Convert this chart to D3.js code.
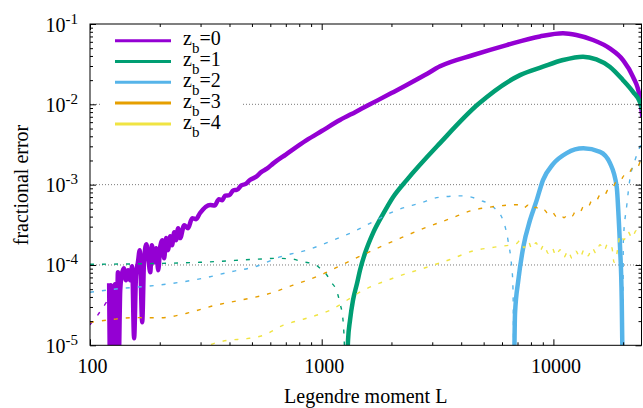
<!DOCTYPE html>
<html>
<head>
<meta charset="utf-8">
<script src="https://cdn.jsdelivr.net/npm/d3@7/dist/d3.min.js"></script>
<style>
  body { margin: 0; background: #fff; }
  svg { display: block; }
  text { font-family: "Liberation Serif", "Times New Roman", serif; fill: #000; }
</style>
</head>
<body>
<svg id="chart" width="643" height="408"></svg>
<script>
// Fractional error vs Legendre moment L for each source bin z_b.
// Each series is a list of [L, signed fractional error]; positive parts are drawn
// as thick solid lines, negative parts as thin dashed lines of |error|.

const seriesLabels = ["0", "1", "2", "3", "4"];
const seriesColors = ["#9400d3", "#009e73", "#56b4e9", "#e69f00", "#f0e442"];

const zb0 = [
  [100, -1.8e-5], [102, -1.93e-5], [106, -2.2e-5], [110, -2.58e-5], [115, -3.1e-5], [120, -3.74e-5],
  [121, 5.92e-5], [122, 6e-6], [123, 5.59e-5], [125, 6e-6], [126, 4.84e-5], [127, 3.64e-5],
  [128, 5.75e-5], [130, 6e-6], [132, 8.12e-5], [133, 6e-6], [135, 4.84e-5], [137, 7.45e-5],
  [140, 9.11e-5], [143, 6.45e-5], [146, 8.6e-5], [149, 6.45e-5], [152, 9.65e-5], [155, 1.22e-5],
  [158, 7.45e-5], [161, 1.08e-4], [164, 1.53e-4], [168, 1.93e-5], [171, 1.08e-4], [175, 1.81e-4],
  [178, 1.32e-4], [182, 8.12e-5], [185, 1.76e-4], [189, 1.08e-4], [193, 1.62e-4], [197, 8.6e-5],
  [201, 1.71e-4], [205, 2.03e-4], [209, 1.21e-4], [213, 2.16e-4], [217, 1.53e-4], [222, 2.28e-4],
  [226, 1.76e-4], [231, 2.56e-4], [235, 2.03e-4], [240, 2.87e-4], [245, 2.16e-4], [255, 3.13e-4],
  [265, 2.87e-4], [276, 3.82e-4], [287, 3.72e-4], [298, 4.41e-4],
  [330, 5.6e-4], [345, 5.5e-4], [360, 6.6e-4], [372, 6.4e-4], [383, 7.3e-4], [400, 7.4e-4],
  [415, 8.5e-4], [430, 8.6e-4], [450, 9.8e-4], [470, 1.02e-3], [490, 1.14e-3], [520, 1.25e-3],
  [550, 1.44e-3], [580, 1.58e-3], [618, 1.84e-3], [700, 2.37e-3], [861, 3.58e-3], [1000, 4.65e-3],
  [1199, 6.37e-3], [1400, 8.05e-3], [1616, 0.0100], [2000, 0.0138], [2327, 0.0174], [2800, 0.0233],
  [3240, 0.0297], [4512, 0.0411], [6285, 0.0547], [8750, 0.0700], [11000, 0.0766], [12560, 0.0729],
  [14830, 0.0632], [17500, 0.0498], [19970, 0.0356], [22060, 0.0220], [23580, 0.0124], [24200, 0.0070]
];

const zb1 = [
  [100, -1.02e-4], [182, -1.04e-4], [298, -1.08e-4], [526, -1.18e-4], [641, -1.21e-4], [752, -1.18e-4],
  [822, -1.1e-4], [935, -1.02e-4], [983, -9.11e-5], [1054, -7.45e-5], [1108, -5.92e-5], [1141, -5.28e-5],
  [1176, -4.2e-5], [1199, -3.34e-5], [1236, -2.05e-5], [1248, -1.33e-5], [1262, -5e-6],
  [1286, 5e-6], [1299, 1.15e-5], [1325, 2.05e-5], [1365, 3.64e-5], [1421, 5.92e-5], [1463, 8.6e-5],
  [1538, 1.4e-4], [1665, 2.49e-4], [1839, 4.29e-4], [2031, 6.98e-4], [2327, 1.14e-3], [3240, 3.29e-3],
  [4727, 0.0100], [7175, 0.0231], [9016, 0.0294], [11000, 0.0356], [13420, 0.0392], [15320, 0.0363],
  [17500, 0.0294], [19970, 0.0200], [22060, 0.0143], [23580, 0.0108], [24200, 0.0085]
];

const zb2 = [
  [100, -4.57e-5], [135, -5.09e-5], [176, -5.43e-5], [229, -5.92e-5], [308, -6.84e-5], [402, -8.19e-5],
  [524, -9.65e-5], [661, -1.26e-4], [861, -1.53e-4], [1119, -2.03e-4], [1365, -2.58e-4], [1665, -3.44e-4],
  [2107, -4.81e-4], [2657, -5.88e-4], [3240, -6.99e-4], [4072, -7.25e-4], [4823, -6.41e-4], [5488, -5.29e-4],
  [6060, -3.61e-4], [6370, -2.03e-4], [6607, -9.46e-5], [6673, -6.45e-5], [6710, -3e-5], [6740, -5e-6],
  [6770, 5e-6], [6830, 2.51e-5], [7056, 6.45e-5], [7416, 1.68e-4], [7925, 3.61e-4], [8472, 6.41e-4],
  [9016, 1.14e-3], [9961, 1.80e-3], [11410, 2.47e-3], [13460, 2.83e-3], [15890, 2.56e-3], [17550, 1.85e-3],
  [18760, 9.39e-4], [19100, 4.17e-4], [19390, 1.68e-4], [19720, 3.64e-5], [19880, 6e-6],
  [19960, -6e-6], [20030, -1.97e-4], [20730, -5.5e-4], [21410, -1.2e-3], [22500, -2.02e-3], [24000, -3.29e-3]
];

const zb3 = [
  [100, -1.93e-5], [122, -2.08e-5], [153, -2.21e-5], [200, -2.2e-5], [262, -2.51e-5], [340, -3.1e-5],
  [444, -3.64e-5], [581, -4.32e-5], [752, -5.6e-5], [983, -7.45e-5], [1261, -1.05e-4], [1665, -1.53e-4],
  [2178, -2.15e-4], [2736, -2.83e-4], [3580, -3.77e-4], [4498, -4.81e-4], [5327, -5.25e-4], [6306, -5.55e-4],
  [7175, -5.63e-4], [7470, -5.17e-4], [7770, -5.55e-4], [8080, -4.95e-4], [8410, -5.24e-4], [8750, -4.74e-4],
  [9110, -4.88e-4], [9480, -4.35e-4], [9860, -4.61e-4], [10260, -4.05e-4], [10680, -4.29e-4], [11110, -3.88e-4],
  [11560, -4.29e-4], [12030, -4.05e-4], [12520, -4.74e-4], [13030, -4.61e-4], [13560, -5.47e-4], [14110, -5.32e-4],
  [14680, -6.32e-4], [15270, -6.23e-4], [15890, -7.40e-4], [16530, -7.19e-4], [17210, -8.66e-4], [17910, -8.92e-4],
  [18630, -1.075e-3], [19390, -1.09e-3], [20170, -1.295e-3], [20990, -1.31e-3], [21840, -1.58e-3], [22730, -1.56e-3],
  [23650, -1.91e-3]
];

const zb4 = [
  [298, -9e-6], [341, -1.05e-5], [389, -1.15e-5], [475, -1.21e-5], [560, -1.33e-5], [683, -1.78e-5],
  [833, -2.11e-5], [1086, -2.73e-5], [1512, -4.84e-5], [2107, -7.1e-5], [2934, -9.65e-5], [3580, -1.17e-4],
  [4512, -1.5e-4], [5693, -1.68e-4], [6944, -1.85e-4],
  [7175, -2.03e-4], [7470, -1.64e-4], [7770, -1.98e-4], [8080, -1.59e-4], [8410, -1.89e-4], [8750, -1.51e-4],
  [9110, -1.79e-4], [9480, -1.40e-4], [9860, -1.64e-4], [10260, -1.30e-4], [10680, -1.55e-4], [11110, -1.25e-4],
  [11560, -1.51e-4], [12030, -1.21e-4], [12520, -1.48e-4], [13030, -1.23e-4], [13560, -1.55e-4], [14110, -1.30e-4],
  [14680, -1.64e-4], [15270, -1.40e-4], [15890, -1.79e-4], [16530, -1.51e-4], [17210, -1.87e-4], [17910, -1.62e-4],
  [18260, -1.08e-4], [18630, -1.21e-4], [19010, -1.71e-4], [19390, -2.38e-4], [20170, -2.06e-4], [20990, -2.60e-4],
  [21840, -2.16e-4], [22730, -2.67e-4], [23650, -2.25e-4]
];

const seriesData = [zb0, zb1, zb2, zb3, zb4];

const xMajorTicks = [100, 1000, 10000];
const xTickLabels = ["100", "1000", "10000"];
const yMajorTicks = [1e-5, 1e-4, 1e-3, 1e-2, 1e-1];
const yTickExponents = ["-5", "-4", "-3", "-2", "-1"];
const yGridTicks = [1e-4, 1e-3, 1e-2];

const xMinorTicks = [];
[100, 1000, 10000].forEach(base => d3.range(2, 10).forEach(k => { if (k * base <= 24000) xMinorTicks.push(k * base); }));
const yMinorTicks = [];
[1e-5, 1e-4, 1e-3, 1e-2].forEach(base => d3.range(2, 10).forEach(k => yMinorTicks.push(k * base)));

// Layout of the plot frame
const plotLeft = 90, plotRight = 641.5, plotTop = 24, plotBottom = 345.3;
const svg = d3.select("#chart");

const x = d3.scaleLog().domain([100, 24000]).range([plotLeft, plotRight]);
const y = d3.scaleLog().domain([1e-5, 1e-1]).range([plotBottom, plotTop]);

svg.append("defs").append("clipPath").attr("id", "plot-clip")
  .append("rect").attr("x", plotLeft).attr("y", plotTop)
  .attr("width", plotRight - plotLeft).attr("height", plotBottom - plotTop);

// Horizontal dotted grid at the inner decades
svg.append("g").selectAll("line").data(yGridTicks).join("line")
  .attr("x1", plotLeft).attr("x2", plotRight)
  .attr("y1", d => y(d)).attr("y2", d => y(d))
  .attr("stroke", "#7a7a7a").attr("stroke-width", 1).attr("stroke-dasharray", "1,2");

// Curves
const positiveLine = d3.line()
  .defined(d => d[1] > 0)
  .x(d => x(d[0])).y(d => y(d[1]))
  .curve(d3.curveMonotoneX);
const negativeLine = d3.line()
  .defined(d => d[1] < 0)
  .x(d => x(d[0])).y(d => y(-d[1]))
  .curve(d3.curveMonotoneX);

const plot = svg.append("g").attr("clip-path", "url(#plot-clip)");
seriesData.forEach((data, i) => {
  plot.append("path").datum(data)
    .attr("d", positiveLine)
    .attr("fill", "none").attr("stroke", seriesColors[i])
    .attr("stroke-width", 4.5).attr("stroke-linejoin", "round");
  plot.append("path").datum(data)
    .attr("d", negativeLine)
    .attr("fill", "none").attr("stroke", seriesColors[i])
    .attr("stroke-width", 1.4).attr("stroke-dasharray", "4,8");
});

// Key with an opaque background
const key = svg.append("g");
key.append("rect").attr("x", 102).attr("y", 29).attr("width", 140).attr("height", 106).attr("fill", "#fff");
seriesLabels.forEach((lab, i) => {
  const ry = 40.7 + i * 20.8;
  key.append("line").attr("x1", 115).attr("x2", 171).attr("y1", ry).attr("y2", ry)
    .attr("stroke", seriesColors[i]).attr("stroke-width", 3);
  const t = key.append("text").attr("x", 183).attr("y", ry + 4.6).attr("font-size", 20);
  t.append("tspan").text("z");
  t.append("tspan").attr("dy", 8).attr("font-size", 15).text("b");
  t.append("tspan").attr("dy", -8).text("=" + lab);
});

// Border
svg.append("rect").attr("x", plotLeft).attr("y", plotTop)
  .attr("width", plotRight - plotLeft).attr("height", plotBottom - plotTop)
  .attr("fill", "none").attr("stroke", "#000").attr("stroke-width", 1);

// Inward ticks on all four sides
function tickAxis(axis, values, size, transform) {
  const g = svg.append("g").attr("transform", transform)
    .call(axis.tickValues(values).tickSize(-size).tickFormat(""));
  g.select(".domain").remove();
  g.selectAll(".tick line").attr("stroke", "#000").attr("stroke-width", 1);
  return g;
}
tickAxis(d3.axisBottom(x), xMajorTicks, 6, `translate(0,${plotBottom})`);
tickAxis(d3.axisBottom(x), xMinorTicks, 3, `translate(0,${plotBottom})`);
tickAxis(d3.axisTop(x), xMajorTicks, 6, `translate(0,${plotTop})`);
tickAxis(d3.axisTop(x), xMinorTicks, 3, `translate(0,${plotTop})`);
tickAxis(d3.axisLeft(y), yMajorTicks, 6, `translate(${plotLeft},0)`);
tickAxis(d3.axisLeft(y), yMinorTicks, 3, `translate(${plotLeft},0)`);
tickAxis(d3.axisRight(y), yMajorTicks, 6, `translate(${plotRight},0)`);
tickAxis(d3.axisRight(y), yMinorTicks, 3, `translate(${plotRight},0)`);

// Tick labels
svg.append("g").selectAll("text").data(xMajorTicks).join("text")
  .attr("x", d => x(d) + 2.5).attr("y", 373)
  .attr("text-anchor", "middle").attr("font-size", 20)
  .text((d, i) => xTickLabels[i]);

const yLabels = svg.append("g").selectAll("text").data(yMajorTicks).join("text")
  .attr("x", 78).attr("y", d => y(d) + 7.5)
  .attr("text-anchor", "end").attr("font-size", 20);
yLabels.append("tspan").text("10");
yLabels.append("tspan").attr("dy", -8).attr("font-size", 15).text((d, i) => yTickExponents[i]);

// Axis titles
svg.append("text").attr("x", (plotLeft + plotRight) / 2).attr("y", 403)
  .attr("text-anchor", "middle").attr("font-size", 20).text("Legendre moment L");
svg.append("text").attr("transform", "translate(28,185) rotate(-90)")
  .attr("text-anchor", "middle").attr("font-size", 20).text("fractional error");
</script>
</body>
</html>
